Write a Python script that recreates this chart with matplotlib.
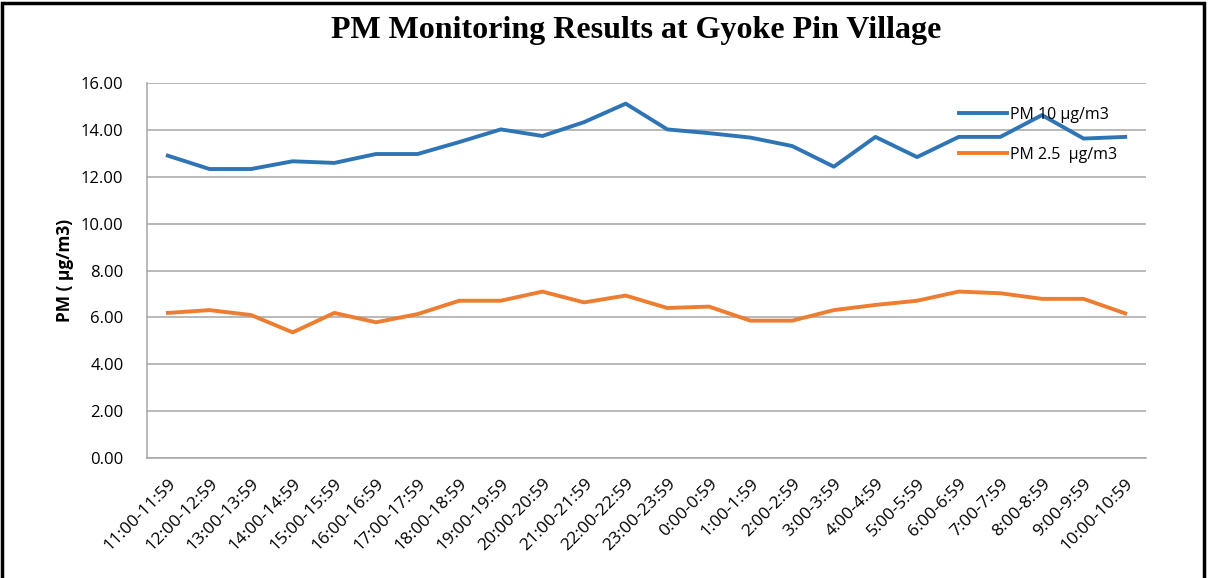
import matplotlib
matplotlib.use('Agg')
import matplotlib.pyplot as plt
import numpy as np

hours = ['11:00-11:59', '12:00-12:59', '13:00-13:59', '14:00-14:59', '15:00-15:59',
         '16:00-16:59', '17:00-17:59', '18:00-18:59', '19:00-19:59', '20:00-20:59',
         '21:00-21:59', '22:00-22:59', '23:00-23:59', '0:00-0:59', '1:00-1:59',
         '2:00-2:59', '3:00-3:59', '4:00-4:59', '5:00-5:59', '6:00-6:59',
         '7:00-7:59', '8:00-8:59', '9:00-9:59', '10:00-10:59']
pm10 = [12.90, 12.33, 12.33, 12.66, 12.59, 12.97, 12.97, 13.48, 14.02, 13.74,
        14.33, 15.12, 14.02, 13.86, 13.67, 13.31, 12.43, 13.70, 12.84, 13.70,
        13.70, 14.63, 13.63, 13.70]
pm25 = [6.19, 6.31, 6.10, 5.36, 6.19, 5.79, 6.14, 6.71, 6.71, 7.10,
        6.64, 6.93, 6.40, 6.46, 5.86, 5.86, 6.31, 6.53, 6.71, 7.10,
        7.03, 6.79, 6.79, 6.17]
yticks = np.arange(0, 16.01, 2)

BLUE = '#2f75b5'
ORANGE = '#ed7d31'
GRID = '#a6a6a6'

fig = plt.figure(figsize=(12.08, 5.78), dpi=100)
ax = fig.add_axes([0.1217, 0.2076, 0.8270, 0.6488])

x = np.arange(len(hours))
ax.plot(x, pm10, color=BLUE, linewidth=2.8, label='PM 10 µg/m3', solid_joinstyle='round')
ax.plot(x, pm25, color=ORANGE, linewidth=2.8, label='PM 2.5  µg/m3', solid_joinstyle='round')

ax.set_xlim(-0.5, len(hours) - 0.5)
ax.set_ylim(0, 16)
ax.set_yticks(yticks)
ax.set_yticklabels([f'{v:.2f}' for v in yticks], fontsize=12, family='Open Sans')
ax.set_xticks(x)
ax.set_xticklabels(hours, rotation=45, ha='right', rotation_mode='anchor',
                   fontsize=12.5, family='Open Sans')
ax.tick_params(axis='y', length=0, pad=17)
ax.tick_params(axis='x', length=0, pad=13)
ax.grid(axis='y', color=GRID, linewidth=1.1)
ax.set_axisbelow(True)
for s in ['top', 'right']:
    ax.spines[s].set_visible(False)
for s in ['left', 'bottom']:
    ax.spines[s].set_color(GRID)
    ax.spines[s].set_linewidth(1.1)

ax.set_ylabel('PM ( µg/m3)', fontsize=12.5, fontweight='bold', family='Open Sans', labelpad=5)

fig.text(0.527, 0.947, 'PM Monitoring Results at Gyoke Pin Village', ha='center', va='center',
         fontsize=23, fontweight='bold', family='Liberation Serif')

leg = ax.legend(loc='upper right', bbox_to_anchor=(0.985, 0.975), frameon=False,
                prop={'family': 'Open Sans', 'size': 11.5}, labelspacing=1.5,
                handlelength=3.0, handletextpad=0.15)

# outer chart frame
fig.patches.append(plt.Rectangle((0.002, -0.01), 0.995, 1.005, transform=fig.transFigure,
                                 fill=False, edgecolor='black', linewidth=2.5))

fig.savefig('out.png', dpi=100)
